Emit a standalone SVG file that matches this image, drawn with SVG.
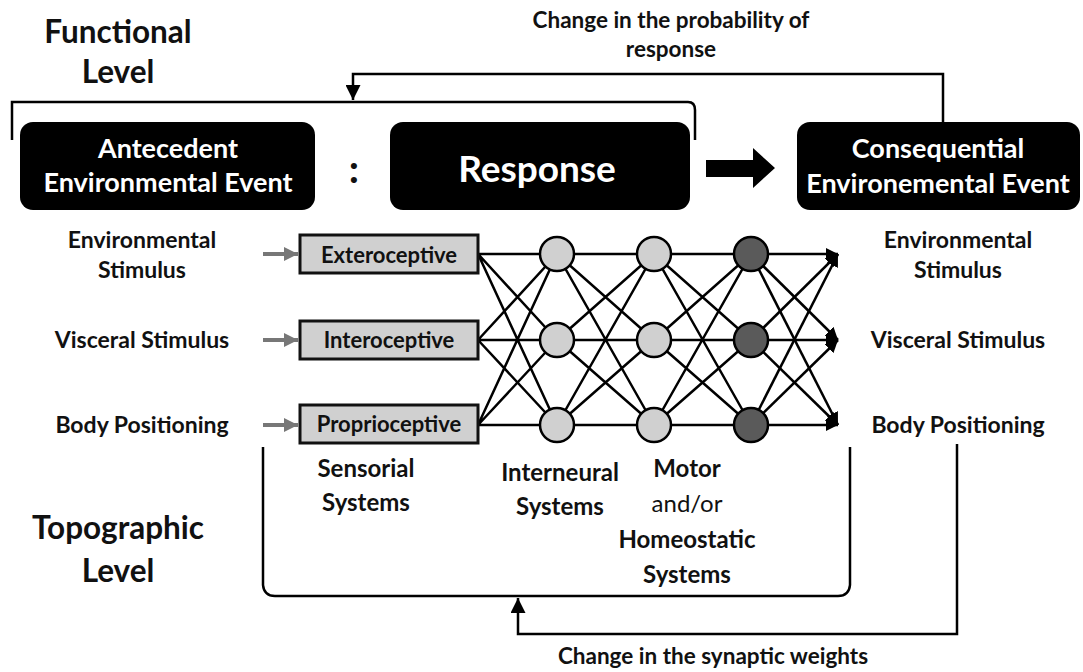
<svg xmlns="http://www.w3.org/2000/svg" width="1083" height="672" viewBox="0 0 1083 672">
<style>
.t{font-family:Lato,"Liberation Sans",sans-serif;font-weight:bold;fill:#111;text-anchor:middle}
.w{font-family:Lato,"Liberation Sans",sans-serif;font-weight:bold;fill:#fff;text-anchor:middle}
.r{font-family:Lato,"Liberation Sans",sans-serif;font-weight:normal;fill:#111;text-anchor:middle}
.ln{stroke:#000;stroke-width:2.5;fill:none}
.bx{fill:#000}
.sb{fill:#d0d0d0;stroke:#111;stroke-width:3}
.c1{fill:#d0d0d0;stroke:#000;stroke-width:2.5}
.c3{fill:#5a5a5a;stroke:#000;stroke-width:2.5}
.ga{stroke:#777;stroke-width:4;fill:none}
</style>
<defs>
<marker id="ah" viewBox="0 0 10 10" refX="10" refY="5" markerWidth="6" markerHeight="6" markerUnits="strokeWidth" orient="auto"><path d="M0,0 L10,5 L0,10 z" fill="#000"/></marker>
<marker id="ga" viewBox="0 0 10 10" refX="10" refY="5" markerWidth="3.5" markerHeight="3.5" markerUnits="strokeWidth" orient="auto"><path d="M0,0 L10,5 L0,10 z" fill="#777"/></marker>
<marker id="ot" viewBox="0 0 10 10" refX="10" refY="5" markerWidth="5" markerHeight="5" markerUnits="strokeWidth" orient="auto"><path d="M0,0 L10,5 L0,10 z" fill="#000"/></marker>
</defs>
<rect width="1083" height="672" fill="#fff"/>

<g id="labels">
<text class="t" x="118" y="43" font-size="31.5">Functional</text>
<text class="t" x="118" y="83" font-size="31.5">Level</text>
<text class="t" x="671" y="28" font-size="22.5">Change in the probability of</text>
<text class="t" x="671" y="57" font-size="22.5">response</text>
<text class="t" x="118" y="539" font-size="31.5">Topographic</text>
<text class="t" x="118" y="582" font-size="31.5">Level</text>
<text class="t" x="713" y="664" font-size="22.5">Change in the synaptic weights</text>
</g>

<g id="connectors">
<path class="ln" d="M12,140 L12,102 L688,102 Q695,102 695,110 L695,140"/>
<path class="ln" d="M943,122 L943,74 L353,74 L353,100" marker-end="url(#ah)"/>
<path class="ln" d="M263,447 L263,585 Q264,596 275,596 L838,596 Q849,596 850,585 L850,447"/>
<path class="ln" d="M957,444 L957,634 L518,634 L518,598" marker-end="url(#ah)"/>
<path class="ga" d="M263,254 L298,254" marker-end="url(#ga)"/>
<path class="ga" d="M263,340 L298,340" marker-end="url(#ga)"/>
<path class="ga" d="M263,425 L298,425" marker-end="url(#ga)"/>
<g class="ln">
<path d="M478,254 L557,254 M478,254 L557,340 M478,254 L557,425 M478,340 L557,254 M478,340 L557,340 M478,340 L557,425 M478,425 L557,254 M478,425 L557,340 M478,425 L557,425"/>
<path d="M557,254 L654,254 M557,254 L654,340 M557,254 L654,425 M557,340 L654,254 M557,340 L654,340 M557,340 L654,425 M557,425 L654,254 M557,425 L654,340 M557,425 L654,425"/>
<path d="M654,254 L751,254 M654,254 L751,340 M654,254 L751,425 M654,340 L751,254 M654,340 L751,340 M654,340 L751,425 M654,425 L751,254 M654,425 L751,340 M654,425 L751,425"/>
<path d="M751,254 L838,254" marker-end="url(#ot)"/>
<path d="M751,340 L838,254" marker-end="url(#ot)"/>
<path d="M751,425 L838,254" marker-end="url(#ot)"/>
<path d="M751,254 L838,340" marker-end="url(#ot)"/>
<path d="M751,340 L838,340" marker-end="url(#ot)"/>
<path d="M751,425 L838,340" marker-end="url(#ot)"/>
<path d="M751,254 L838,425" marker-end="url(#ot)"/>
<path d="M751,340 L838,425" marker-end="url(#ot)"/>
<path d="M751,425 L838,425" marker-end="url(#ot)"/>
</g>
<path d="M706,160 L753,160 L753,148 L775,168 L753,188 L753,177 L706,177 z" fill="#000"/>
</g>

<g id="antecedent">
<rect class="bx" x="20" y="122" width="295" height="88" rx="13"/>
<text class="w" x="168" y="158" font-size="27">Antecedent</text>
<text class="w" x="168" y="192" font-size="27">Environmental Event</text>
</g>
<g id="colon"><text class="t" x="354" y="183" font-size="40">:</text></g>
<g id="response">
<rect class="bx" x="390" y="122" width="300" height="88" rx="13"/>
<text class="w" x="537" y="182" font-size="37">Response</text>
</g>
<g id="consequential">
<rect class="bx" x="797" y="122" width="283" height="88" rx="13"/>
<text class="w" x="938" y="158" font-size="27">Consequential</text>
<text class="w" x="938" y="193" font-size="27">Environemental Event</text>
</g>

<g id="in-labels">
<text class="t" x="142" y="248" font-size="23">Environmental</text>
<text class="t" x="142" y="278" font-size="23">Stimulus</text>
<text class="t" x="142" y="348" font-size="23">Visceral Stimulus</text>
<text class="t" x="142" y="433" font-size="23">Body Positioning</text>
</g>
<g id="out-labels">
<text class="t" x="958" y="248" font-size="23">Environmental</text>
<text class="t" x="958" y="278" font-size="23">Stimulus</text>
<text class="t" x="958" y="348" font-size="23">Visceral Stimulus</text>
<text class="t" x="958" y="433" font-size="23">Body Positioning</text>
</g>

<g id="exteroceptive"><rect class="sb" x="300" y="235" width="178" height="38"/><text class="t" x="389" y="263" font-size="22">Exteroceptive</text></g>
<g id="interoceptive"><rect class="sb" x="300" y="321" width="178" height="38"/><text class="t" x="389" y="348" font-size="22">Interoceptive</text></g>
<g id="proprioceptive"><rect class="sb" x="300" y="405" width="178" height="38"/><text class="t" x="389" y="432" font-size="22">Proprioceptive</text></g>

<g id="inter1"><circle class="c1" cx="557" cy="254" r="17"/><circle class="c1" cx="557" cy="340" r="17"/><circle class="c1" cx="557" cy="425" r="17"/></g>
<g id="inter2"><circle class="c1" cx="654" cy="254" r="17"/><circle class="c1" cx="654" cy="340" r="17"/><circle class="c1" cx="654" cy="425" r="17"/></g>
<g id="motor"><circle class="c3" cx="751" cy="254" r="17"/><circle class="c3" cx="751" cy="340" r="17"/><circle class="c3" cx="751" cy="425" r="17"/></g>

<g id="system-labels">
<text class="t" x="366" y="477" font-size="24">Sensorial</text>
<text class="t" x="366" y="511" font-size="24">Systems</text>
<text class="t" x="560" y="481" font-size="24">Interneural</text>
<text class="t" x="560" y="515" font-size="24">Systems</text>
<text class="t" x="687" y="477" font-size="24">Motor</text>
<text class="r" x="687" y="512" font-size="24">and/or</text>
<text class="t" x="687" y="548" font-size="24">Homeostatic</text>
<text class="t" x="687" y="583" font-size="24">Systems</text>
</g>
</svg>
